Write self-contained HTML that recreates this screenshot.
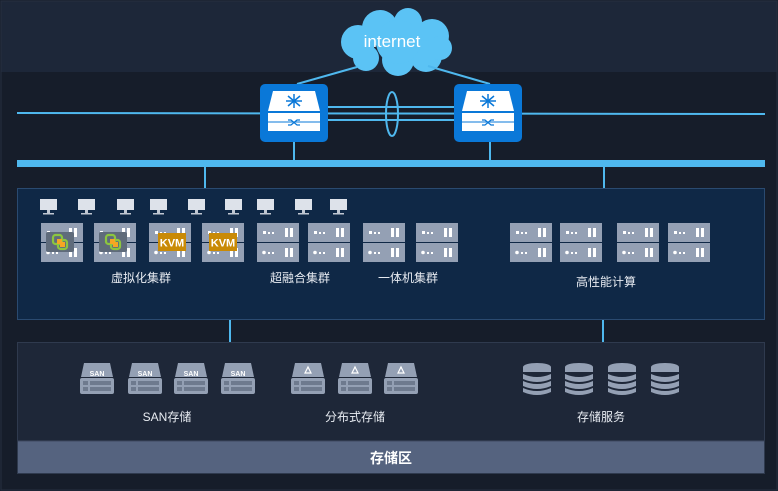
<!DOCTYPE html>
<html><head><meta charset="utf-8"><style>
html,body{margin:0;padding:0;background:#161d2a;}
svg{display:block}
text{font-family:"Liberation Sans","Noto Sans CJK SC",sans-serif;}
</style></head><body>
<svg width="778" height="491" viewBox="0 0 778 491" xmlns="http://www.w3.org/2000/svg">
<defs>
<g id="srv">
 <rect x="0" y="0" width="42" height="19" fill="#94a0b4"/>
 <rect x="0" y="20" width="42" height="19" fill="#94a0b4"/>
 <rect x="6" y="8" width="3" height="3" fill="#fff"/><rect x="11" y="9" width="2" height="2" fill="#fff"/><rect x="15" y="9" width="2" height="2" fill="#fff"/>
 <rect x="28" y="5" width="3" height="9" fill="#fff"/><rect x="33" y="5" width="3" height="9" fill="#fff"/>
 <circle cx="7" cy="29.5" r="1.8" fill="#fff"/><rect x="11" y="29" width="2" height="2" fill="#fff"/><rect x="15" y="29" width="2" height="2" fill="#fff"/>
 <rect x="28" y="25" width="3" height="9" fill="#fff"/><rect x="33" y="25" width="3" height="9" fill="#fff"/>
</g>
<g id="mon">
 <rect x="0" y="0" width="17" height="11" fill="#dde2ea"/>
 <rect x="7" y="11" width="3" height="3" fill="#c0c7d2"/>
 <rect x="3" y="14" width="11" height="1.5" fill="#c0c7d2"/>
</g>
<g id="vm">
 <rect x="-14" y="-10" width="28" height="20" rx="2" fill="#5f6b7b"/>
 <rect x="-7" y="-7" width="9" height="9" rx="2.5" fill="none" stroke="#8cc63f" stroke-width="2.2"/>
 <rect x="-2" y="-2" width="9" height="9" rx="2.5" fill="none" stroke="#8cc63f" stroke-width="2.2"/>
 <rect x="-3" y="-3" width="5" height="5" fill="#f5a623"/><rect x="0" y="0" width="5" height="5" fill="#f5a623"/>
</g>
<g id="kvm">
 <rect x="-14" y="-9" width="28" height="18" fill="#c98a06"/>
 <text x="0" y="4.5" font-size="11" font-weight="bold" fill="#fff" text-anchor="middle">KVM</text>
</g>
<g id="disk">
 <path d="M4 0 H30 L33 14 H1 Z" fill="#94a0b4"/>
 <rect x="0" y="15" width="34" height="16" rx="2" fill="#94a0b4"/>
 <rect x="3" y="18" width="5" height="4" fill="#6e7a8e"/><rect x="3" y="24" width="5" height="4" fill="#6e7a8e"/>
 <rect x="10" y="18" width="21" height="4" fill="#6e7a8e"/><rect x="10" y="24" width="21" height="4" fill="#6e7a8e"/>
</g>
<g id="db">
 <ellipse cx="14" cy="4" rx="14" ry="4" fill="#94a0b4"/>
 <rect x="0" y="4" width="28" height="5" fill="#94a0b4"/>
 <path d="M0 11 Q14 17 28 11 V16 Q14 22 0 16Z" fill="#94a0b4"/>
 <path d="M0 18 Q14 24 28 18 V23 Q14 29 0 23Z" fill="#94a0b4"/>
 <path d="M0 25 Q14 31 28 25 V29 Q14 35 0 29Z" fill="#94a0b4"/>
</g>
<g id="sw">
 <rect x="0" y="0" width="68" height="58" rx="5" fill="#0a78d8"/>
 <path d="M13 7 H55 L60 27 H8 Z" fill="#fff"/>
 <rect x="8" y="29" width="52" height="18" fill="#fff"/>
 <line x1="8" y1="38" x2="60" y2="38" stroke="#0a78d8" stroke-width="1"/>
 <g stroke="#0a78d8" stroke-width="1.5"><line x1="34" y1="10" x2="34" y2="24"/><line x1="26" y1="17" x2="42" y2="17"/><line x1="28" y1="12" x2="40" y2="22"/><line x1="40" y1="12" x2="28" y2="22"/></g>
 <path d="M28 36 H31 L37 41 H40 M28 41 H31 L37 36 H40" stroke="#0a78d8" stroke-width="1.2" fill="none"/>
</g>
</defs>
<rect x="0" y="0" width="778" height="491" fill="#161d2a"/>
<rect x="1" y="1" width="776" height="71" fill="#1d2739"/>
<rect x="1" y="1" width="776" height="489" fill="none" stroke="#262f40"/>
<!-- cloud -->
<g fill="#5bc3f5">
 <circle cx="358" cy="42" r="17"/><circle cx="380" cy="28" r="18"/><circle cx="408" cy="22" r="14"/><circle cx="432" cy="36" r="17"/><circle cx="426" cy="56" r="16"/><circle cx="398" cy="60" r="16"/><circle cx="366" cy="58" r="13"/><circle cx="398" cy="42" r="22"/><circle cx="440" cy="48" r="12"/>
</g>
<text x="392" y="47" font-size="17" fill="#fff" text-anchor="middle">internet</text>
<!-- lines -->
<g stroke="#4fb8ee" stroke-width="2">
 <line x1="297" y1="84" x2="357" y2="67"/><line x1="428" y1="66" x2="490" y2="84"/>
 <line x1="17" y1="113" x2="765" y2="114"/>
 <line x1="328" y1="107" x2="454" y2="107"/><line x1="328" y1="120" x2="454" y2="120"/>
 <line x1="294" y1="142" x2="294" y2="162"/><line x1="490" y1="142" x2="490" y2="162"/>
 <line x1="205" y1="166" x2="205" y2="189"/><line x1="604" y1="166" x2="604" y2="189"/>
 <line x1="230" y1="319" x2="230" y2="343"/><line x1="603" y1="319" x2="603" y2="343"/>
</g>
<ellipse cx="392" cy="114" rx="6" ry="22" fill="none" stroke="#4fb8ee" stroke-width="2"/>
<rect x="17" y="160" width="748" height="7" fill="#4fb8ee"/>
<use href="#sw" x="260" y="84"/><use href="#sw" x="454" y="84"/>
<!-- compute panel -->
<rect x="17.5" y="188.5" width="747" height="131" fill="#0f2846" stroke="#2a4a70"/>
<use href="#mon" x="40" y="199"/><use href="#mon" x="78" y="199"/><use href="#mon" x="117" y="199"/><use href="#mon" x="150" y="199"/><use href="#mon" x="188" y="199"/><use href="#mon" x="225" y="199"/><use href="#mon" x="257" y="199"/><use href="#mon" x="295" y="199"/><use href="#mon" x="330" y="199"/>
<use href="#srv" x="41" y="223"/><use href="#srv" x="94" y="223"/><use href="#srv" x="149" y="223"/><use href="#srv" x="202" y="223"/><use href="#srv" x="257" y="223"/><use href="#srv" x="308" y="223"/><use href="#srv" x="363" y="223"/><use href="#srv" x="416" y="223"/>
<use href="#srv" x="510" y="223"/><use href="#srv" x="560" y="223"/><use href="#srv" x="617" y="223"/><use href="#srv" x="668" y="223"/>
<use href="#vm" x="60" y="242"/><use href="#vm" x="113" y="242"/><use href="#kvm" x="172" y="242"/><use href="#kvm" x="223" y="242"/>
<g font-size="12" fill="#e8ecf2" text-anchor="middle">
<text x="141" y="282">虚拟化集群</text><text x="300" y="282">超融合集群</text><text x="408" y="282">一体机集群</text><text x="606" y="286">高性能计算</text>
</g>
<!-- storage panel -->
<rect x="17.5" y="342.5" width="747" height="131" fill="#1e2738" stroke="#2f3a4e"/>
<rect x="18" y="441" width="746" height="32" fill="#55637f"/>
<line x1="18" y1="441" x2="764" y2="441" stroke="#3f4a60"/>
<g font-size="7" font-weight="bold" fill="#fff" text-anchor="middle">
<use href="#disk" x="80" y="363"/><text x="97" y="376">SAN</text>
<use href="#disk" x="128" y="363"/><text x="145" y="376">SAN</text>
<use href="#disk" x="174" y="363"/><text x="191" y="376">SAN</text>
<use href="#disk" x="221" y="363"/><text x="238" y="376">SAN</text>
</g>
<use href="#disk" x="291" y="363"/><use href="#disk" x="338" y="363"/><use href="#disk" x="384" y="363"/>
<g stroke="#fff" stroke-width="1.2" fill="none">
<path d="M305 373 L308 367 L311 373 Z"/>
<path d="M352 373 L355 367 L358 373 Z"/>
<path d="M398 373 L401 367 L404 373 Z"/>
</g>
<use href="#db" x="523" y="363"/><use href="#db" x="565" y="363"/><use href="#db" x="608" y="363"/><use href="#db" x="651" y="363"/>
<g font-size="12" fill="#e8ecf2" text-anchor="middle">
<text x="167" y="421">SAN存储</text><text x="355" y="421">分布式存储</text><text x="601" y="421">存储服务</text>
</g>
<text x="391" y="463" font-size="14" font-weight="bold" fill="#fff" text-anchor="middle">存储区</text>
</svg>
</body></html>
